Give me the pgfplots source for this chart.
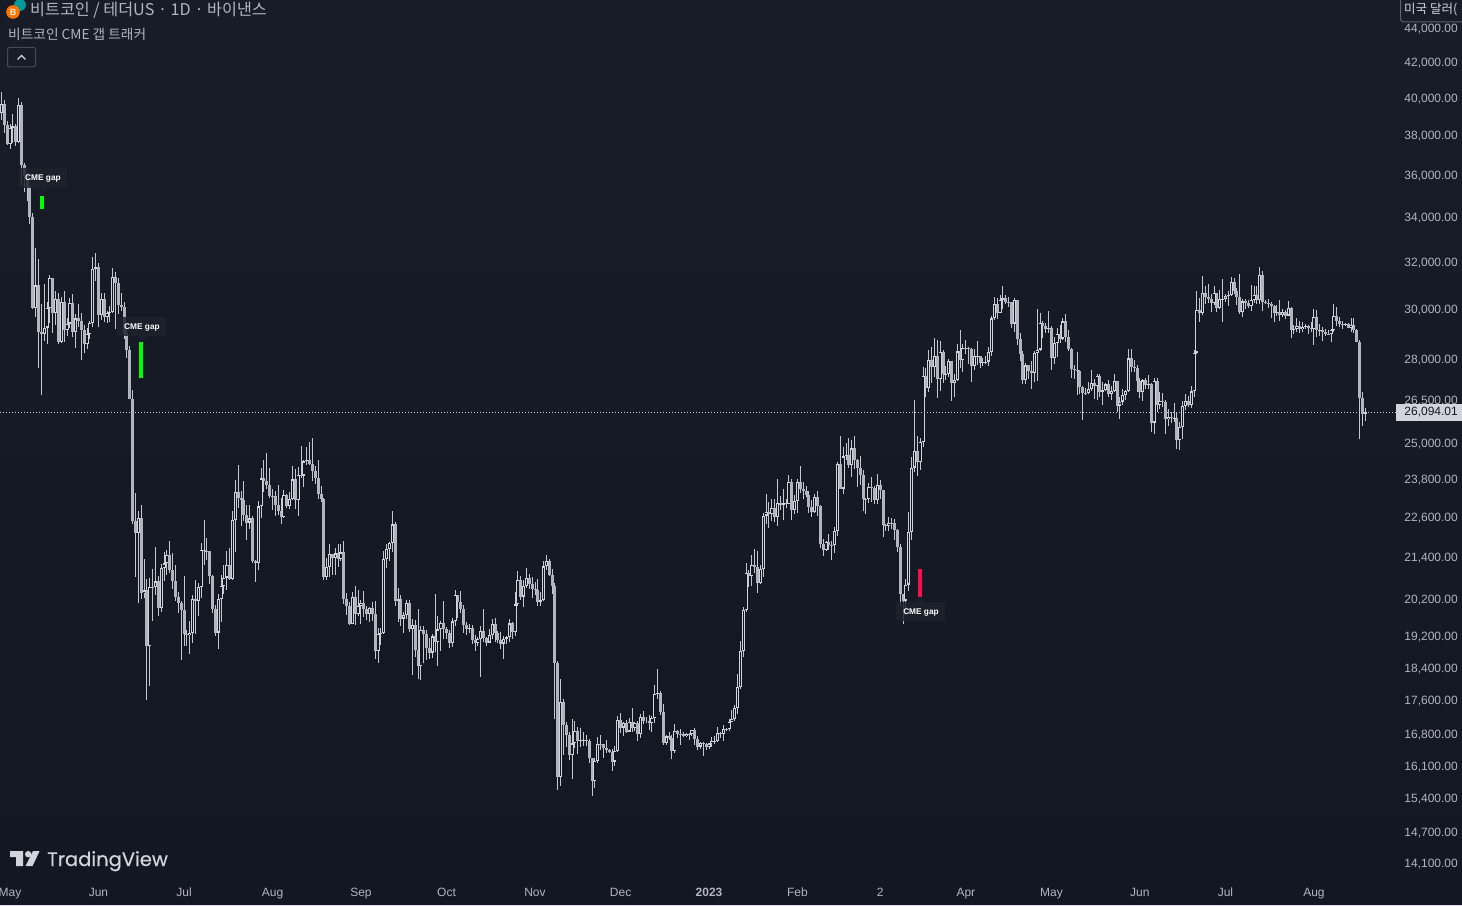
\documentclass[border=0pt]{standalone}
\usepackage{fontspec}
\setmainfont{Liberation Sans}
\newfontfamily\kr{Noto Sans CJK KR}
\newfontfamily\logofont[FakeBold=0.5]{Poppins}
\usepackage{pgfplots}
\usepackage{pgfplotstable}
\pgfplotsset{compat=1.18}
\definecolor{bgtop}{HTML}{181C27}
\definecolor{bgbot}{HTML}{131722}
\definecolor{wick}{HTML}{C4C7D0}
\definecolor{upc}{HTML}{D1D4DC}
\definecolor{downc}{HTML}{B2B5BE}
\definecolor{ticktxt}{HTML}{B2B5BE}
\definecolor{gapbox}{HTML}{1E222D}
\definecolor{gapred}{HTML}{F70F4F}

% d = days since 1 May 2022, one row per daily candle
\pgfplotstableread{
d o h l c
-3 39235 40372 38881 39742
-2 39742 39925 38175 38596
-1 38596 38795 37578 37630
0 37630 38675 37386 38468
1 38468 39167 37670 38525
2 38525 38651 37510 37729
3 37729 40023 37670 39690
4 39690 39845 35571 36552
5 36552 36675 35258 36013
6 36013 36146 34785 35472
7 35472 35514 33713 34038
8 34038 34243 30033 30074
9 30074 32658 29730 31017
10 31017 32162 27736 29103
11 29103 30243 26700 29029
12 29029 31083 28751 29287
13 29287 30343 28630 30086
14 30086 31460 29480 31328
15 31328 31328 29087 29874
16 29874 30788 29404 30444
17 30444 30709 28654 28715
18 28715 30545 28670 30319
19 30319 30777 28730 29201
20 29201 29656 28947 29445
21 29445 30487 29255 30293
22 30293 30670 28894 29110
23 29110 29827 28490 29655
24 29655 30223 29294 29542
25 29542 29871 28020 29201
26 29201 29400 28282 28629
27 28629 29251 28450 29031
28 29031 29543 28850 29468
29 29468 32222 29300 31734
30 31734 32399 31200 31801
31 31801 31982 29299 29805
32 29805 30689 29594 30452
33 30452 30699 29500 29700
34 29700 29959 29485 29865
35 29865 30170 29520 29919
36 29919 31765 29880 31373
37 31373 31589 29218 31125
38 31125 31327 29844 30204
39 30204 30700 29944 30109
40 30109 30330 28850 29091
41 29091 29440 28100 28424
42 28424 28544 26560 26574
43 26574 26895 22400 22487
44 22487 23362 20846 22136
45 22136 22800 20111 22583
46 22583 22982 20232 20401
47 20401 21365 20246 20468
48 20468 20792 17622 18970
49 18970 20815 17960 20574
50 20574 21080 19637 20573
51 20573 21723 20348 20723
52 20723 20871 19770 19987
53 19987 21233 19890 21110
54 21110 21558 20736 21237
55 21237 21614 20906 21491
56 21491 21888 20960 21038
57 21038 21540 20510 20742
58 20742 21191 20176 20281
59 20281 20432 19854 20123
60 20123 20179 18626 19942
61 19942 20876 18975 19279
62 19279 19400 18966 19252
63 19252 19648 18781 19315
64 19315 20354 19050 20236
65 20236 20750 19304 20175
66 20175 20675 19763 20564
67 20564 21838 20250 21624
68 21624 22527 21189 21594
69 21594 21980 21322 21591
70 21591 21607 20650 20862
71 20862 20900 19855 19963
72 19963 20059 19240 19328
73 19328 20366 18910 20234
74 20234 20900 19616 20588
75 20588 21200 20380 20830
76 20830 21600 20480 21195
77 21195 21690 20760 20785
78 20785 22800 20770 22525
79 22525 23800 21580 23410
80 23410 24276 22906 23215
81 23215 23426 22340 23153
82 23153 23756 22500 22684
83 22684 22990 21934 22451
84 22451 22998 22260 22579
85 22579 22660 21250 21310
86 21310 21346 20706 21254
87 21254 23112 21040 22952
88 22952 24199 22580 23843
89 23843 24442 23400 23774
90 23774 24668 23500 23643
91 23643 24194 23227 23293
92 23293 23500 22850 23268
93 23268 23444 22650 22987
94 22987 23647 22681 22818
95 22818 23229 22400 22622
96 22622 23464 22590 23312
97 23312 23357 22900 22954
98 22954 23400 22856 23175
99 23175 24245 23147 23810
100 23810 24140 22860 23149
101 23149 24225 22666 23954
102 23954 24918 23852 23934
103 23934 24456 23580 24403
104 24403 24888 24300 24441
105 24441 25047 24280 24305
106 24305 25211 23773 24101
107 24101 24247 23671 23854
108 23854 24446 23180 23342
109 23342 23600 23100 23191
110 23191 23208 20761 20834
111 20834 21382 20761 21140
112 21140 21800 20850 21515
113 21515 21520 20890 21399
114 21399 21689 20900 21529
115 21529 21800 21140 21368
116 21368 21820 21310 21559
117 21559 21886 20100 20241
118 20241 20390 19800 20037
119 20037 20140 19520 19555
120 19555 20420 19550 20285
121 20285 20580 19540 19811
122 19811 20490 19780 20049
123 20049 20210 19560 20127
124 20127 20440 19750 19952
125 19952 20050 19650 19832
126 19832 20020 19600 19986
127 19986 20160 19640 19812
128 19812 20180 18650 18837
129 18837 19460 18540 19291
130 19291 19450 19000 19319
131 19319 21600 19290 21360
132 21360 21800 21100 21648
133 21648 21860 21300 21826
134 21826 22800 21560 22395
135 22395 22480 20040 20173
136 20173 20550 19620 20226
137 20226 20330 19500 19701
138 19701 19880 19320 19803
139 19803 20190 19700 20113
140 20113 20200 19350 19416
141 19416 19690 18230 19537
142 19537 19650 18700 18875
143 18875 19960 18130 18461
144 18461 19500 18120 19401
145 19401 19490 18530 19289
146 19289 19400 18630 18920
147 18920 19180 18650 18807
148 18807 19300 18680 19227
149 19227 20380 18820 19079
150 19079 19780 18470 19412
151 19412 19640 18840 19591
152 19591 20180 19150 19422
153 19422 19480 19160 19310
154 19310 19390 18920 19056
155 19056 19720 18960 19623
156 19623 20470 19490 20336
157 20336 20350 19730 20160
158 20160 20460 19850 19955
159 19955 20060 19320 19531
160 19531 19620 19260 19417
161 19417 19560 19320 19439
162 19439 19520 19020 19131
163 19131 19270 18860 19060
164 19060 19220 18970 19155
165 19155 19500 18190 19375
166 19375 19950 19070 19176
167 19176 19220 18970 19068
168 19068 19420 19060 19262
169 19262 19690 19150 19549
170 19549 19710 19090 19327
171 19327 19360 19060 19123
172 19123 19350 18900 19041
173 19041 19250 18650 19164
174 19164 19250 19020 19204
175 19204 19700 19070 19570
176 19570 19600 19160 19330
177 19330 20420 19240 20080
178 20080 21020 20050 20771
179 20771 20880 20200 20295
180 20295 20750 20000 20595
181 20595 21090 20540 20818
182 20818 20930 20520 20635
183 20635 20840 20250 20495
184 20495 20700 20340 20485
185 20485 20800 20050 20151
186 20151 20420 20030 20207
187 20207 21300 20170 21148
188 21148 21480 21050 21299
189 21299 21360 20880 20905
190 20905 21070 20380 20591
191 20591 20670 17170 18541
192 18541 18600 15590 15880
193 15880 18150 15680 17586
194 17586 17650 16360 17034
195 17034 17100 16530 16800
196 16800 16880 16240 16353
197 16353 17190 15820 16619
198 16619 17130 16520 16900
199 16900 16990 16370 16662
200 16662 16960 16530 16692
201 16692 16870 16550 16700
202 16700 16820 16550 16680
203 16680 16720 16170 16280
204 16280 16290 15476 15781
205 15781 16300 15630 16226
206 16226 16770 16170 16603
207 16603 16810 16460 16598
208 16598 16600 16300 16522
209 16522 16700 16400 16458
210 16458 16490 16400 16428
211 16428 16480 16000 16212
212 16212 16560 16110 16442
213 16442 17250 16430 17163
214 17163 17320 16860 16978
215 16978 17100 16790 17092
216 17092 17150 16860 16885
217 16885 17200 16870 17105
218 17105 17430 16870 16967
219 16967 17110 16900 17089
220 17089 17140 16680 16836
221 16836 17300 16730 17224
222 17224 17360 17060 17128
223 17128 17230 17090 17127
224 17127 17270 16930 17085
225 17085 17240 16870 17209
226 17209 18000 17080 17774
227 17774 18390 17660 17803
228 17803 17850 17280 17356
229 17356 17530 16580 16632
230 16632 16800 16580 16776
231 16776 16880 16700 16738
232 16738 16820 16260 16438
233 16438 17060 16400 16895
234 16895 16920 16750 16824
235 16824 16940 16590 16821
236 16821 16870 16760 16778
237 16778 16860 16770 16837
238 16837 16860 16700 16830
239 16830 16930 16790 16919
240 16919 16970 16590 16707
241 16707 16780 16470 16547
242 16547 16660 16490 16633
243 16633 16650 16330 16607
244 16607 16630 16470 16542
245 16542 16630 16490 16616
246 16616 16760 16540 16672
247 16672 16780 16600 16674
248 16674 16990 16660 16850
249 16850 16880 16750 16831
250 16831 17040 16670 16950
251 16950 16980 16910 16943
252 16943 17180 16910 17120
253 17120 17400 17100 17179
254 17179 17500 17140 17440
255 17440 18260 17300 17943
256 17943 19110 17900 18846
257 18846 20000 18700 19930
258 19930 21260 19880 20954
259 20954 21050 20560 20872
260 20872 21480 20600 21185
261 21185 21650 20970 21132
262 21132 21600 20400 20677
263 20677 21190 20650 21071
264 21071 22750 20850 22667
265 22667 23350 22400 22783
266 22783 23080 22300 22707
267 22707 23170 22500 22916
268 22916 23180 22460 22633
269 22633 23820 22350 23060
270 23060 23280 22850 23009
271 23009 23500 22530 23074
272 23074 23180 22900 23031
273 23031 23950 23020 23743
274 23743 23810 22540 22827
275 22827 23320 22710 23125
276 23125 23810 22760 23733
277 23733 24250 23360 23492
278 23492 23720 23200 23431
279 23431 23590 23260 23326
280 23326 23430 22750 22933
281 22933 23160 22630 22762
282 22762 23350 22750 23240
283 23240 23450 22660 22963
284 22963 23000 21690 21796
285 21796 21940 21450 21625
286 21625 21910 21600 21862
287 21862 22090 21630 21783
288 21783 21890 21350 21773
289 21773 22330 21530 22199
290 22199 24370 22050 24324
291 24324 25250 23510 23517
292 23517 24900 23340 24569
293 24569 25010 24440 24631
294 24631 25190 24200 24271
295 24271 25120 23880 24838
296 24838 25250 24150 24439
297 24439 24470 23570 24188
298 24188 24600 23620 23947
299 23947 24130 22800 23198
300 23198 23220 22730 23175
301 23175 23690 23070 23561
302 23561 23880 23100 23522
303 23522 23600 23020 23147
304 23147 24000 23020 23646
305 23646 23780 23200 23475
306 23475 23480 22000 22362
307 22362 22420 22200 22354
308 22354 22610 22200 22436
309 22436 22600 22270 22429
310 22429 22550 21930 22219
311 22219 22270 21580 21705
312 21705 21820 20040 20363
313 20363 20370 19550 20187
314 20187 20790 19770 20632
315 20632 22780 20440 22163
316 22163 24540 21920 24197
317 24197 26530 24050 24746
318 24746 25250 23930 24375
319 24375 25200 24120 25055
320 25055 27760 24880 27423
321 27423 27720 26630 26965
322 26965 28390 26830 28038
323 28038 28530 27160 27767
324 27767 28870 27380 28175
325 28175 28790 26600 27307
326 27307 28750 26850 28333
327 28333 28400 27160 27493
328 27493 27780 27250 27494
329 27494 28050 27380 27994
330 27994 28000 26500 27139
331 27139 27500 26630 27268
332 27268 28650 27240 28348
333 28348 29190 27700 28033
334 28033 28650 27550 28478
335 28478 28800 28250 28465
336 28465 28530 27870 28452
337 28452 28480 27200 27800
338 27800 28450 27660 28168
339 28168 28770 27830 28175
340 28175 28180 27730 27907
341 27907 28100 27780 27947
342 27947 28170 27860 27957
343 27957 28530 27800 28334
344 28334 29770 28170 29653
345 29653 30550 29600 30235
346 30235 30490 29620 29884
347 29884 30620 29860 30399
348 30399 31000 30030 30485
349 30485 30620 30230 30318
350 30318 30550 30120 30315
351 30315 30320 29280 29445
352 29445 30500 29100 30397
353 30397 30410 28600 28823
354 28823 29080 28000 28245
355 28245 28370 27130 27262
356 27262 27890 27130 27817
357 27817 27820 27320 27591
358 27591 28000 26950 27525
359 27525 28380 27200 28307
360 28307 30030 27240 28422
361 28422 29890 28380 29473
362 29473 29570 28870 29340
363 29340 29460 29060 29248
364 29248 29960 29090 29268
365 29268 29340 27660 28091
366 28091 28900 27870 28680
367 28680 29260 28130 29026
368 29026 29370 28670 28848
369 28848 29680 28800 29534
370 29534 29850 28700 28904
371 28904 29170 28380 28454
372 28454 28470 27340 27694
373 27694 27830 27320 27658
374 27658 28330 26700 27621
375 27621 27650 26740 27000
376 27000 27050 25810 26804
377 26804 26980 26700 26784
378 26784 27200 26740 26930
379 26930 27660 26850 27171
380 27171 27300 26560 27033
381 27033 27480 26550 27405
382 27405 27490 26660 26821
383 26821 27180 26360 26890
384 26890 27150 26850 27102
385 27102 27270 26650 26747
386 26747 27050 26530 26851
387 26851 27490 26820 27225
388 27225 27240 26100 26334
389 26334 26640 25860 26476
390 26476 26930 26340 26719
391 26719 26900 26550 26868
392 26868 28450 26840 28085
393 28085 28450 27550 27745
394 27745 28040 27560 27702
395 27702 27840 26840 27219
396 27219 27350 26600 26819
397 26819 27300 26500 27249
398 27249 27330 26920 27069
399 27069 27460 26950 27115
400 27115 27140 25390 25728
401 25728 27350 25350 27231
402 27231 27340 26110 26339
403 26339 26820 26210 26498
404 26498 26780 26270 26477
405 26477 26520 25350 25841
406 25841 26210 25600 25925
407 25925 26100 25720 25901
408 25901 26420 25760 25902
409 25902 26070 24820 25127
410 25127 25750 24800 25576
411 25576 26480 25160 26327
412 26327 26760 26180 26510
413 26510 26690 26280 26337
414 26337 27030 26250 26844
415 26844 28400 26660 28307
416 28307 30800 28260 29993
417 29993 30500 29520 29884
418 29884 31430 29810 30689
419 30689 31000 30250 30527
420 30527 31060 30280 30462
421 30462 30650 29900 30267
422 30267 31000 30220 30693
423 30693 30710 29900 30077
424 30077 30820 30030 30447
425 30447 31280 29500 30472
426 30472 30650 30320 30585
427 30585 30790 30180 30617
428 30617 31380 30580 31156
429 31156 31330 30650 30767
430 30767 30890 30200 30514
431 30514 31500 29850 29895
432 29895 30450 29700 30348
433 30348 30450 30050 30292
434 30292 30420 30060 30171
435 30171 31050 29950 30414
436 30414 31000 30300 30620
437 30620 30980 30260 30391
438 30391 31810 30260 31476
439 31476 31640 29940 30334
440 30334 30390 30250 30295
441 30295 30460 30080 30249
442 30249 30340 29660 30145
443 30145 30200 29500 29856
444 29856 30190 29760 29913
445 29913 30420 29570 29793
446 29793 30050 29730 29908
447 29908 29980 29620 29771
448 29771 30350 29740 30083
449 30083 30110 28860 29176
450 29176 29380 29050 29228
451 29228 29690 29100 29354
452 29354 29570 29080 29212
453 29212 29530 29130 29314
454 29314 29420 29250 29352
455 29352 29380 29030 29275
456 29275 29530 29110 29230
457 29230 30050 28590 29705
458 29705 30000 28920 29186
459 29186 29430 28960 29193
460 29193 29310 28750 29113
461 29113 29230 28960 29042
462 29042 29180 28980 29041
463 29041 29240 28700 29180
464 29180 30230 29120 29766
465 29766 30130 29350 29561
466 29561 29710 29310 29429
467 29429 29540 29230 29399
468 29399 29470 29360 29415
469 29415 29470 29270 29283
470 29283 29680 29100 29409
471 29409 29660 29060 29170
472 29170 29230 28700 28701
473 28701 28790 25166 26621
474 26621 26840 25620 26049
475 26049 26260 25800 26094
}\candles

\begin{document}
\begin{tikzpicture}
\path[use as bounding box] (0,0) rectangle (1462pt,906pt);
\begin{axis}[
    at={(0pt,0pt)}, anchor=south west,
    scale only axis, width=1462pt, height=906pt,
    xmin=-3.505, xmax=508.9,
    ymode=log, ymin=13315, ymax=45774,
    axis line style={draw=none},
    axis background/.style={top color=bgtop, bottom color=bgbot},
    tick style={draw=none},
    major tick length=0pt, minor tick length=0pt,
    clip=true,
    font=\fontsize{12}{14}\selectfont,
    ytick={44000,42000,40000,38000,36000,34000,32000,30000,28000,26500,25000,23800,22600,21400,20200,19200,18400,17600,16800,16100,15400,14700,14100},
    yticklabels={{44,000.00},{42,000.00},{40,000.00},{38,000.00},{36,000.00},{34,000.00},{32,000.00},{30,000.00},{28,000.00},{26,500.00},{25,000.00},{23,800.00},{22,600.00},{21,400.00},{20,200.00},{19,200.00},{18,400.00},{17,600.00},{16,800.00},{16,100.00},{15,400.00},{14,700.00},{14,100.00}},
    yticklabel pos=right,
    yticklabel style={anchor=east, xshift=-4pt, text=ticktxt, inner sep=0pt},
    xtick={0,31,61,92,123,153,184,214,245,276,305,335,365,396,426,457},
    xticklabels={May,Jun,Jul,Aug,Sep,Oct,Nov,Dec,\textbf{2023},Feb,2,Apr,May,Jun,Jul,Aug},
    xticklabel style={anchor=base, yshift=9.5pt, text=ticktxt, inner sep=0pt},
]
% last price line
\addplot[forget plot, color=upc, line width=1pt, dash pattern=on 1pt off 2pt] coordinates {(-3.5,26094) (485.8,26094)};

% wicks
\addplot[forget plot, draw=none, no marks, error bars/.cd, y dir=plus, y explicit, error mark=none,
    error bar style={draw=wick, line width=1pt}]
    table[x=d, y=l, y error plus expr=\thisrow{h}-\thisrow{l}] {\candles};
% falling bodies, filled
\addplot[forget plot, draw=none, no marks, error bars/.cd, y dir=plus, y explicit, error mark=none,
    error bar style={draw=downc, line width=3pt}]
    table[x=d, y=c, y error plus expr={max(\thisrow{o}-\thisrow{c},0)}] {\candles};
% rising bodies, outlined
\addplot[forget plot, draw=none, no marks, error bars/.cd, y dir=plus, y explicit, error mark=none,
    error bar style={draw=upc, line width=3pt}]
    table[x=d, y=o, y error plus expr={max(\thisrow{c}-\thisrow{o},0)}] {\candles};
\addplot[forget plot, draw=none, no marks, error bars/.cd, y dir=plus, y explicit, error mark=none,
    error bar style={draw=bgbot, line width=1.4pt}]
    table[x=d, y expr=\thisrow{o}*1.0016, y error plus expr={max(\thisrow{c}*0.9984-\thisrow{o}*1.0016,0)}] {\candles};

% CME gap markers
\addplot[forget plot, color=green, line width=4pt] coordinates {(11.2,35040) (11.2,34420)};
\addplot[forget plot, color=green, line width=4pt] coordinates {(45.9,28720) (45.9,27340)};
\addplot[forget plot, color=gapred, line width=4pt] coordinates {(319,21076) (319,20290)};
\end{axis}

% overlay, coordinates as in the picture's pixels
\begin{scope}[x=1pt, y=-1pt, shift={(0pt,906pt)}]
  \fill[color=white!88!blue] (0,904.5) rectangle (1462,906);

  % gap labels
  \foreach \xa/\xb/\ya/\yb/\tipy/\tx/\ty in {18/67/168/188/193/43/178.5, 117/166/317/336/341/142/327}{
    \fill[gapbox, fill opacity=.85, rounded corners=2pt] (\xa,\ya) rectangle (\xb,\yb);
    \fill[gapbox, fill opacity=.85] (\tx-4,\yb) -- (\tx+4,\yb) -- (\tx,\tipy) -- cycle;
    \node[text=white, font=\fontsize{8.3}{10}\bfseries\selectfont, inner sep=0pt] at (\tx,\ty) {CME gap};
  }
  \fill[gapbox, fill opacity=.85, rounded corners=2pt] (896,602) rectangle (945,621);
  \fill[gapbox, fill opacity=.85] (916,602) -- (924,602) -- (920,597) -- cycle;
  \node[text=white, font=\fontsize{8.3}{10}\bfseries\selectfont, inner sep=0pt] at (921,612.5) {CME gap};

  % last price tag
  \fill[upc] (1396,404) rectangle (1462,421);
  \node[anchor=east, text=bgbot, inner sep=0pt, font=\fontsize{12}{14}\selectfont] at (1458,412.5) {26,094.01};

  % currency box
  \begin{scope}
    \clip (1398,-1) rectangle (1462,24);
    \fill[bgtop, draw=downc!45!bgtop, rounded corners=3pt, line width=1pt] (1400.5,-5) rectangle (1470,22);
    \node[anchor=west, text=upc, inner sep=0pt, font=\kr\fontsize{12.5}{14}\selectfont] at (1404,10) {미국 달러(};
  \end{scope}

  % header
  \fill[teal!80!cyan] (20,5) circle (6);
  \fill[orange!90!red] (13,12) circle (6.8);
  \node[text=white!85!orange, inner sep=0pt, font=\fontsize{9}{9}\bfseries\selectfont] at (13,12) {B};
  \node[anchor=west, text=ticktxt, inner sep=0pt, font=\kr\fontsize{16.2}{18}\selectfont] at (30,10) {비트코인 / 테더US · 1D · 바이낸스};
  \node[anchor=west, text=ticktxt, inner sep=0pt, font=\kr\fontsize{13.7}{15}\selectfont] at (8,34) {비트코인 CME 갭 트래커};
  \draw[color=downc!30!bgtop, rounded corners=2pt, line width=1pt] (7.5,47.5) rectangle (35.5,67);
  \draw[color=upc, line width=1.2pt] (17.5,59.5) -- (21.5,55.5) -- (25.5,59.5);

  % watermark
  \fill[upc] (10,851) -- (23,851) -- (23,866) -- (16,866) -- (16,857) -- (10,857) -- cycle;
  \fill[upc] (28.2,854.2) circle (3.2);
  \fill[upc] (33,851) -- (39.6,851) -- (32.5,866) -- (25.5,866) -- cycle;
  \node[anchor=base west, text=upc, inner sep=0pt, font=\logofont\fontsize{19.5}{24}\selectfont] at (47,866) {TradingView};
\end{scope}
\end{tikzpicture}
\end{document}
